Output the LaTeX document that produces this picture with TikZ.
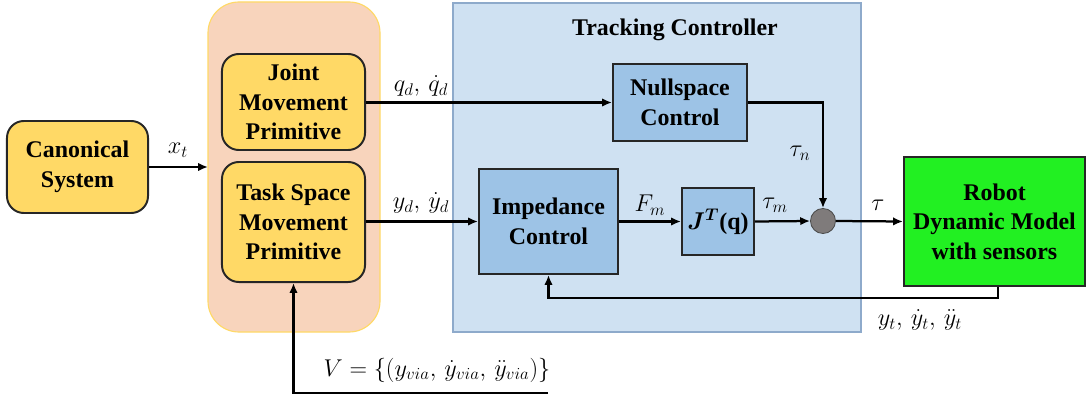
\documentclass[tikz,border=0pt]{standalone}
\usepackage{amsmath}
\usepackage{bm}
\usepackage{fontspec}
\setmainfont{Liberation Serif}
\usetikzlibrary{arrows.meta}

\definecolor{dmpyellow}{HTML}{FFD966}
\definecolor{dmppeach}{HTML}{F8D4BC}
\definecolor{ctrlblue}{HTML}{CFE1F2}
\definecolor{ctrledge}{HTML}{8EAACB}
\definecolor{boxblue}{HTML}{9DC3E6}
\definecolor{sumgray}{HTML}{7F7B7B}
\definecolor{robotgreen}{HTML}{22F022}

\tikzset{
	block/.style={draw=black!85, line width=1.4pt, align=center,
		font=\fontsize{17}{21}\selectfont\bfseries, inner sep=0pt},
	dmpbox/.style={block, fill=dmpyellow, rounded corners=12pt},
	ctrlbox/.style={block, fill=boxblue},
	sig/.style={line width=1.6pt, -{Latex[length=7pt,width=6pt]}},
	lbl/.style={font=\fontsize{18}{21}\selectfont, inner sep=1pt}
}

\begin{document}
\begin{tikzpicture}[x=0.025cm, y=-0.025cm]
	\useasboundingbox (0,0) rectangle (1087,401);
	
	% background groups
	\draw[fill=dmppeach, draw=dmpyellow, line width=0.8pt, rounded corners=22pt] (208,2) rectangle (380,332);
	\draw[fill=ctrlblue, draw=ctrledge, line width=0.8pt] (453,3) rectangle (861,332);
	\node[font=\fontsize{17}{21}\selectfont\bfseries] (title) at (675,30) {Tracking Controller};
	
	% blocks
	\node[dmpbox, minimum width=3.525cm, minimum height=2.3cm] (canon) at (77.5,167) {Canonical\\System};
	\node[dmpbox, minimum width=3.575cm, minimum height=2.4cm] (joint) at (293.5,102) {Joint\\Movement\\Primitive};
	\node[dmpbox, minimum width=3.575cm, minimum height=3cm] (task) at (293.5,222) {Task Space\\Movement\\Primitive};
	\node[ctrlbox, minimum width=3.35cm, minimum height=1.925cm] (null) at (680,102.5) {Nullspace\\Control};
	\node[ctrlbox, minimum width=3.475cm, minimum height=2.625cm] (imp) at (548.5,221.5) {Impedance\\Control};
	\node[ctrlbox, minimum width=1.8cm, minimum height=1.675cm] (jac) at (718,221.5) {$\bm{J^T}$(q)};
	\node[circle, draw=black!70, line width=0.6pt, fill=sumgray, minimum size=0.625cm, inner sep=0pt] (sum) at (823,221) {};
	\node[block, fill=robotgreen, minimum width=4.525cm, minimum height=3.225cm] (robot) at (994.5,221.5) {Robot\\Dynamic Model\\with sensors};
	
	% free ends
	\coordinate (dmpin) at (208,167);
	\coordinate (via) at (548,393);
	\coordinate (fbk) at (998,298);
	
	% signals
	\draw[sig] (canon.east |- dmpin) -- (dmpin);
	\draw[sig] (joint.east |- null.west) -- (null.west);
	\draw[sig] (task.east |- imp.west) -- (imp.west);
	\draw[sig] (imp.east) -- (jac.west);
	\draw[sig] (jac.east) -- (sum.west);
	\draw[sig] (null.east) -| (sum.north);
	\draw[sig] (sum.east) -- (robot.west);
	\draw[sig] (robot.south -| fbk) -- (fbk) -| (imp.south);
	\draw[sig] (via) -| (task.south);
	
	% signal names
	\node[lbl] (xtlbl) at (178,150) {$x_t$};
	\node[lbl] (qdlbl) at (421,86) {$q_d,\,\dot{q}_d$};
	\node[lbl] (ydlbl) at (421,203) {$y_d,\,\dot{y}_d$};
	\node[lbl] (fmlbl) at (650,205) {$F_m$};
	\node[lbl] (tmlbl) at (775,205) {$\tau_m$};
	\node[lbl] (tnlbl) at (800,153) {$\tau_n$};
	\node[lbl] (taulbl) at (878,205) {$\tau$};
	\node[lbl] (ytlbl) at (920,320) {$y_t,\,\dot{y}_t,\,\ddot{y}_t$};
	\node[lbl] (vialbl) at (437,370) {$V=\{(y_{via},\,\dot{y}_{via},\,\ddot{y}_{via})\}$};
\end{tikzpicture}
\end{document}
